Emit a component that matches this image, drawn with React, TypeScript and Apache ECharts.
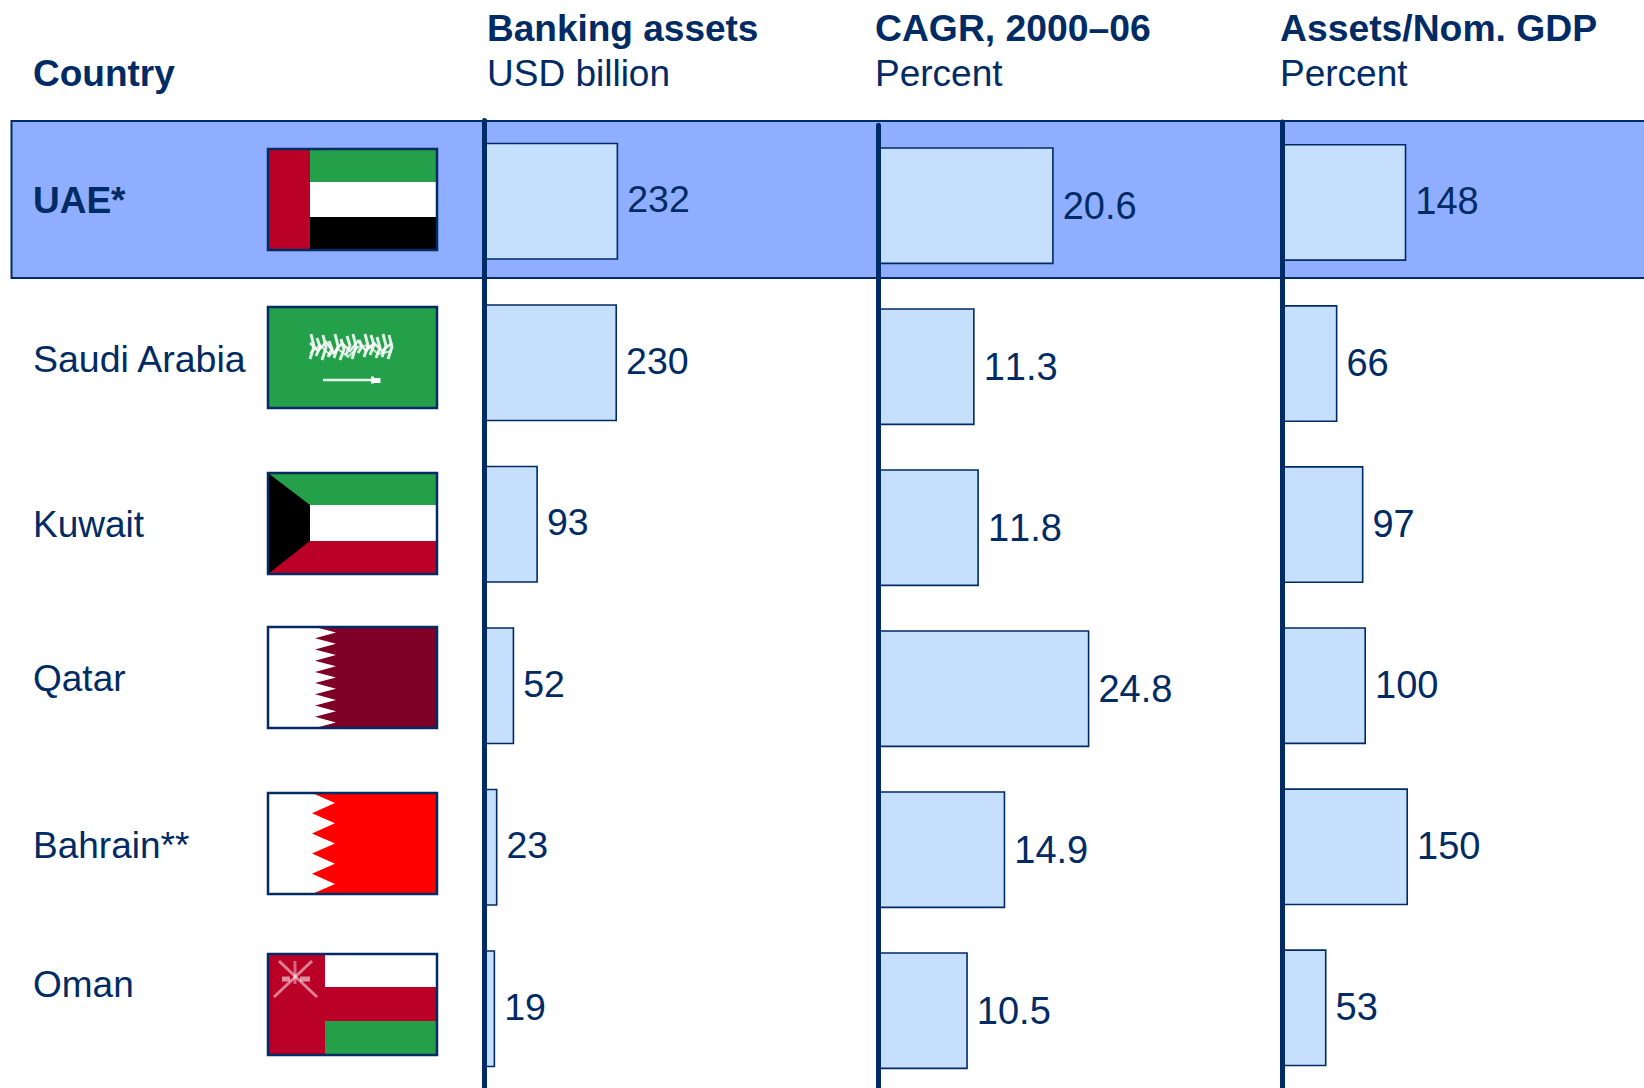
import React, { useEffect, useRef } from "react";
import * as echarts from "echarts";

const countries = ["UAE*", "Saudi Arabia", "Kuwait", "Qatar", "Bahrain**", "Oman"];
const bankingAssets = [232, 230, 93, 52, 23, 19];
const cagr = ["20.6", "11.3", "11.8", "24.8", "14.9", "10.5"];
const assetsToGdp = [148, 66, 97, 100, 150, 53];
const headerTitles = ["Banking assets", "CAGR, 2000–06", "Assets/Nom. GDP"];
const headerUnits = ["USD billion", "Percent", "Percent"];

const NAVY = "#002b64";
const BAR = "#c6dffc";
const FONT = "'Liberation Sans', Arial, sans-serif";
const FS = 37;
const RED = "#bb0027";
const GREEN = "#249f4a";

const rowTextY = [200, 359, 524, 678, 845, 984];
const rowTextSize = [37, 37.5, 37, 37, 37, 37];
const titleSize = [37, 37.3, 37.3];
const flagTops = [149, 307, 473, 627, 793, 954];
const headerX = [487, 875, 1280];
const FW = 169;
const FH = 101;

const rect = (x: number, y: number, w: number, h: number, fill: string) => ({
  type: "rect",
  shape: { x, y, width: w, height: h },
  style: { fill },
});
const poly = (points: number[][], fill: string) => ({
  type: "polygon",
  shape: { points },
  style: { fill },
});
const stroke = (points: number[][], w = 2, opacity = 1) => ({
  type: "polyline",
  shape: { points },
  style: { stroke: "#ffffff", lineWidth: w, fill: "none", opacity },
});

const serrated = (base: number, tip: number, teeth: number) => {
  const pts: number[][] = [[0, 0], [base, 0]];
  const step = FH / teeth;
  for (let i = 0; i < teeth; i++) {
    pts.push([tip, step * (i + 0.5)]);
    pts.push([base, step * (i + 1)]);
  }
  pts.push([0, FH]);
  return pts;
};

const saudiScript = () => {
  const out: any[] = [];
  const xs = [43, 49, 55, 61, 67, 73, 79, 85, 91, 97, 103, 109, 115, 121];
  const tops = [27, 31, 28, 34, 27, 32, 29, 27, 33, 27, 28, 30, 27, 28];
  const bottoms = [52, 49, 53, 50, 51, 53, 48, 52, 46, 50, 48, 51, 50, 52];
  xs.forEach((x, i) => {
    out.push(stroke([[x, tops[i]], [x + 3, (tops[i] + bottoms[i]) / 2], [x - 1, bottoms[i]]], 3, 0.85));
  });
  out.push(stroke([[42, 36], [50, 44], [58, 35], [66, 46], [74, 36], [82, 44], [90, 34], [98, 44], [106, 36], [114, 44], [124, 36]], 2.5, 0.85));
  out.push(stroke([[42, 46], [52, 38], [62, 48], [70, 42], [80, 50], [90, 40], [100, 38], [110, 47], [124, 44]], 2, 0.75));
  out.push(stroke([[55, 73], [112, 73]], 2.5, 0.9));
  out.push(rect(103, 69.5, 3, 7, "#ffffff"));
  out.push(rect(106, 71, 6.5, 5, "#ffffff"));
  return out;
};

const omanEmblem = () => [
  stroke([[11, 7], [30, 25], [49, 43]], 3, 0.5),
  stroke([[44, 7], [25, 25], [6, 43]], 3, 0.5),
  stroke([[27, 7], [27, 30]], 3, 0.4),
  stroke([[14, 25], [22, 25]], 5, 0.55),
  stroke([[32, 25], [42, 25]], 5, 0.55),
];

const flagBodies: any[][] = [
  [rect(0, 0, FW, 33, GREEN), rect(0, 33, FW, 35, "#ffffff"), rect(0, 68, FW, 33, "#000000"), rect(0, 0, 42, FH, RED)],
  [rect(0, 0, FW, FH, GREEN), ...saudiScript()],
  [
    rect(0, 0, FW, 32, GREEN),
    rect(0, 32, FW, 36, "#ffffff"),
    rect(0, 68, FW, 33, RED),
    poly([[0, 0], [42, 32], [42, 68], [0, FH]], "#000000"),
  ],
  [rect(0, 0, FW, FH, "#7e0026"), poly(serrated(47, 68, 9), "#ffffff")],
  [rect(0, 0, FW, FH, "#ff0000"), poly(serrated(44, 67, 5), "#ffffff")],
  [rect(0, 0, FW, FH, RED), rect(57, 0, FW - 57, 33, "#ffffff"), rect(57, 67, FW - 57, 34, GREEN), ...omanEmblem()],
];

const text = (x: number, y: number, t: string, bold: boolean, size = FS) => ({
  type: "text",
  x,
  y,
  style: {
    text: t,
    fill: NAVY,
    font: `${bold ? "bold " : ""}${size}px ${FONT}`,
    textVerticalAlign: "middle",
    textAlign: "left",
  },
});

const graphics: any[] = [
  {
    type: "rect",
    shape: { x: 11.5, y: 121, width: 1650, height: 157 },
    style: { fill: "#90aeff", stroke: NAVY, lineWidth: 2 },
  },
  ...flagTops.map((y, i) => ({
    type: "group",
    x: 268,
    y,
    children: [
      ...flagBodies[i],
      {
        type: "rect",
        shape: { x: 0, y: 0, width: FW, height: FH },
        style: { fill: "none", stroke: NAVY, lineWidth: 2.5 },
      },
    ],
  })),
  ...countries.map((c, i) => text(33, rowTextY[i], c, i === 0, rowTextSize[i])),
  text(33, 73, "Country", true),
  ...headerTitles.map((t, i) => text(headerX[i], 28, t, true, titleSize[i])),
  ...headerUnits.map((t, i) => text(headerX[i], 73, t, false)),
];

const columns = [
  { left: 484.2, top: 120.5, height: 969, max: 400, width: 231, data: bankingAssets, fontSize: 37.5, labelShift: -2 },
  { left: 878.6, top: 125.2, height: 966, max: 30, width: 255, data: cagr, fontSize: 38, labelShift: 0 },
  { left: 1282, top: 121.9, height: 966.5, max: 200, width: 168, data: assetsToGdp, fontSize: 38, labelShift: -1 },
];

export default function App() {
  const ref = useRef<HTMLDivElement>(null);
  useEffect(() => {
    const chart = echarts.init(ref.current!, undefined, { renderer: "svg" });
    chart.setOption({
      animation: false,
      backgroundColor: "#ffffff",
      graphic: { elements: graphics },
      grid: columns.map((c) => ({
        left: c.left,
        top: c.top,
        width: c.width,
        height: c.height,
        containLabel: false,
        outerBoundsMode: "none",
      })),
      xAxis: columns.map((c, i) => ({ type: "value", gridIndex: i, min: 0, max: c.max, show: false })),
      yAxis: columns.map((_, i) => ({
        type: "category",
        gridIndex: i,
        inverse: true,
        data: countries,
        z: 5,
        axisLine: { show: true, lineStyle: { color: NAVY, width: 5 } },
        axisTick: { show: false },
        axisLabel: { show: false },
        splitLine: { show: false },
      })),
      series: columns.map((c, i) => ({
        type: "bar",
        xAxisIndex: i,
        yAxisIndex: i,
        data: c.data,
        barWidth: 117,
        itemStyle: { color: BAR, borderColor: NAVY, borderWidth: 1.6 },
        label: {
          show: true,
          position: "right",
          distance: 9,
          offset: [0, c.labelShift],
          color: NAVY,
          fontFamily: FONT,
          fontSize: c.fontSize,
        },
      })),
    });
    return () => chart.dispose();
  }, []);
  return <div ref={ref} style={{ position: "fixed", left: 0, top: 0, width: 1644, height: 1088, fontKerning: "none" }} />;
}
